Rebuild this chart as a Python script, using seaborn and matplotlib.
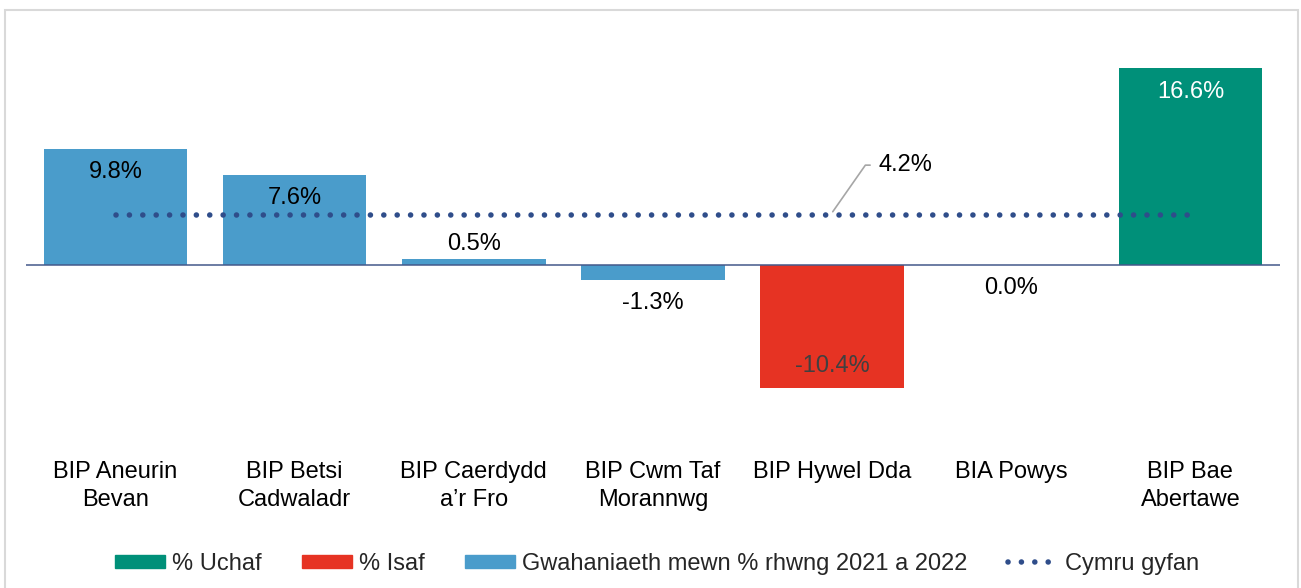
import matplotlib
matplotlib.use("Agg")
import matplotlib.pyplot as plt
import seaborn as sns
import numpy as np
import pandas as pd
from matplotlib.patches import Patch, Rectangle
from matplotlib.lines import Line2D

# ---- data ----
categories = ["BIP Aneurin\nBevan", "BIP Betsi\nCadwaladr", "BIP Caerdydd\na\u2019r Fro",
              "BIP Cwm Taf\nMorannwg", "BIP Hywel Dda", "BIA Powys", "BIP Bae\nAbertawe"]
values = [9.8, 7.6, 0.5, -1.3, -10.4, 0.0, 16.6]
cymru_gyfan = 4.2
legend_labels = ["% Uchaf", "% Isaf", "Gwahaniaeth mewn % rhwng 2021 a 2022", "Cymru gyfan"]

# ---- styles ----
C_HIGH = "#009079"
C_LOW = "#E63323"
C_BAR = "#4A9CCB"
C_DOT = "#2F4D8A"
C_AXIS = "#44598A"
DOT_LS = (0, (0.01, 2.4))
DOT_LW = 4.0

vmax, vmin = max(values), min(values)
colors = [C_HIGH if v == vmax else C_LOW if v == vmin else C_BAR for v in values]

sns.set_theme(style="white")
plt.rcParams["font.family"] = ["Liberation Sans", "DejaVu Sans"]
FS = 17

fig = plt.figure(figsize=(13.01, 5.88), dpi=100)
ax = fig.add_axes([26 / 1301, 1 - 430 / 588, (1280 - 26) / 1301, (430 - 40) / 588])

df = pd.DataFrame({"cat": categories, "val": values})
sns.barplot(data=df, x="cat", y="val", hue="cat", palette=colors, legend=False,
            width=0.8, saturation=1, ax=ax, linewidth=0)

ax.set_xlim(-0.5, 6.5)
ax.set_ylim(-(430 - 265) / 11.87, (265 - 40) / 11.87)
ax.axhline(0, color=C_AXIS, lw=1.1, zorder=3)
for s in ax.spines.values():
    s.set_visible(False)
ax.set_yticks([])
ax.set_xlabel("")
ax.set_ylabel("")
ax.tick_params(axis="x", length=0, pad=22.5, labelsize=FS, colors="black")
for t in ax.get_xticklabels():
    t.set_linespacing(1.34)

# dotted national line
xs = np.arange(len(categories))
ax.plot([xs[0], xs[-1]], [cymru_gyfan, cymru_gyfan], color=C_DOT, lw=DOT_LW,
        linestyle=DOT_LS, dash_capstyle="round", zorder=4)

# annotation for national value
ax.annotate(f"{cymru_gyfan:.1f}%", xy=(3.99, cymru_gyfan), xycoords="data",
            xytext=(35, 36), textcoords="offset points", fontsize=FS, color="black",
            va="center", ha="left",
            arrowprops=dict(arrowstyle="-", color="#A6A6A6", lw=1.2,
                            connectionstyle="angle,angleA=0,angleB=55,rad=0",
                            shrinkA=4, shrinkB=3))

# bar labels
for i, v in enumerate(values):
    txtcol = "black"
    if v == vmax:
        txtcol = "white"
    elif v == vmin:
        txtcol = "#404040"
    if abs(v) > 3:
        off = -17 if v > 0 else 16
    else:
        off = 11 if v > 0 else -16.5
    ax.annotate(f"{v:.1f}%", xy=(i, v), xytext=(0, off), textcoords="offset points",
                ha="center", va="center", fontsize=FS, color=txtcol, zorder=5)

# legend
handles = [Patch(color=C_HIGH), Patch(color=C_LOW), Patch(color=C_BAR),
           Line2D([0], [0], color=C_DOT, lw=DOT_LW, linestyle=DOT_LS,
                  dash_capstyle="round")]
fig.legend(handles, legend_labels, loc="center", bbox_to_anchor=(657 / 1301, 1 - 564 / 588),
           ncol=4, frameon=False, fontsize=FS, handlelength=2.12, handleheight=0.51,
           handletextpad=0.28, columnspacing=1.72, borderaxespad=0, borderpad=0)

# outer border
fig.patches.append(Rectangle((4.5 / 1301, -0.05), (1297.5 - 4.5) / 1301, 1.05 - 10.5 / 588,
                             transform=fig.transFigure, fill=False, edgecolor="#D9D9D9",
                             lw=1.5, zorder=0))

fig.savefig("out.png", dpi=100)
